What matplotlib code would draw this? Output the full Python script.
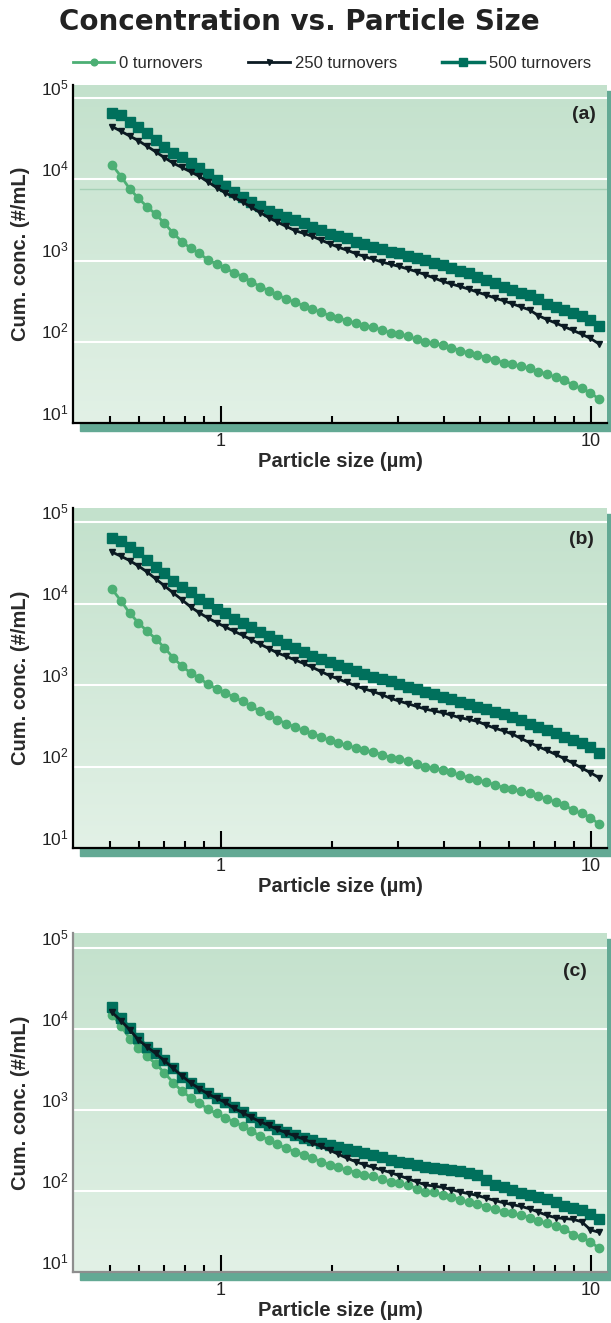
import numpy as np
import matplotlib.pyplot as plt
from matplotlib.patches import Rectangle
from matplotlib.colors import LinearSegmentedColormap
from matplotlib.ticker import FixedLocator, NullLocator, NullFormatter

plt.rcParams['font.family'] = ['Liberation Sans', 'DejaVu Sans']
plt.rcParams['mathtext.fontset'] = 'custom'
plt.rcParams['mathtext.rm'] = 'Liberation Sans'

# particle size channels (um)
sizes = [0.508, 0.537, 0.567, 0.598, 0.631, 0.666, 0.703, 0.743, 0.784, 0.827,
         0.873, 0.922, 0.973, 1.027, 1.084, 1.145, 1.208, 1.276, 1.346, 1.421,
         1.501, 1.584, 1.672, 1.765, 1.863, 1.967, 2.076, 2.191, 2.313, 2.442,
         2.577, 2.721, 2.872, 3.031, 3.200, 3.378, 3.566, 3.764, 3.973, 4.194,
         4.428, 4.674, 4.934, 5.208, 5.498, 5.803, 6.126, 6.467, 6.826, 7.206,
         7.606, 8.030, 8.476, 8.947, 9.445, 9.970, 10.52]

# 0 turnovers (same in all three panels)
zero_turnovers = [15000, 10800, 7600, 5850, 4600, 3720, 2880, 2170, 1710, 1420,
                  1230, 1020, 908, 804, 710, 634, 550, 477, 426, 377,
                  336, 306, 278, 253, 231, 210, 195, 182, 169, 158,
                  151, 140, 129, 124, 118, 107, 98, 96, 90, 85,
                  78, 73, 69, 64, 60, 55, 53, 50, 47, 43,
                  40, 36.5, 34, 29, 26.7, 23.6, 19.6]

# panel (a)
t250_a = [44600, 39000, 34100, 29900, 25600, 21800, 18500, 15800, 14000, 12400,
          10900, 9300, 7900, 6820, 5980, 5240, 4520, 3900, 3370, 2970,
          2630, 2340, 2160, 1990, 1790, 1610, 1460, 1340, 1220, 1120,
          1040, 959, 901, 847, 787, 731, 670, 610, 555, 515,
          480, 445, 409, 377, 347, 320, 294, 269, 247, 210,
          188, 170, 153, 138, 124, 110, 94]
t500_a = [66400, 62100, 51400, 44600, 37600, 30500, 25300, 21300, 18700, 15800,
          13700, 11600, 9840, 8300, 7060, 6120, 5310, 4700, 4120, 3720,
          3480, 3160, 2930, 2620, 2380, 2130, 2010, 1880, 1710, 1590,
          1480, 1380, 1290, 1230, 1150, 1090, 1020, 944, 883, 804,
          752, 698, 634, 579, 527, 479, 437, 395, 377, 339,
          292, 269, 248, 224, 207, 186, 155]

# panel (b)
t250_b = [43000, 38300, 33800, 29100, 24600, 20200, 16600, 13600, 11200, 9170,
          7760, 6680, 5870, 5180, 4600, 4090, 3610, 3190, 2820, 2490,
          2260, 2040, 1850, 1660, 1470, 1310, 1190, 1080, 982, 899,
          836, 764, 690, 637, 592, 548, 508, 483, 460, 428,
          398, 379, 359, 325, 296, 275, 251, 222, 197, 176,
          158, 141, 125, 110, 96, 84, 73]
t500_b = [63800, 59700, 50400, 43000, 34500, 28600, 23700, 19200, 15900, 13800,
          11600, 10100, 8610, 7620, 6490, 5740, 5120, 4520, 4040, 3570,
          3190, 2840, 2520, 2290, 2080, 1900, 1760, 1610, 1500, 1360,
          1260, 1180, 1110, 1030, 951, 891, 834, 773, 716, 670,
          628, 582, 545, 505, 473, 439, 406, 370, 337, 309,
          282, 257, 234, 214, 195, 174, 148]

# panel (c)
t250_c = [16000, 12600, 9730, 7350, 6010, 4990, 4060, 3260, 2640, 2170,
          1840, 1580, 1400, 1240, 1050, 923, 813, 716, 646, 575,
          525, 479, 437, 394, 356, 320, 284, 254, 230, 211,
          196, 182, 169, 155, 142, 130, 119, 115, 111, 104,
          97.5, 92.7, 88.1, 81.8, 76.2, 71.6, 67.8, 64.6, 60.3, 55,
          50.1, 46.8, 45.7, 44.7, 41.7, 33.1, 30.9]
t500_c = [18600, 13600, 10300, 7710, 6070, 5020, 4160, 3280, 2580, 2140,
          1850, 1610, 1400, 1270, 1100, 953, 826, 716, 652, 577,
          540, 491, 447, 426, 394, 369, 346, 327, 314, 296,
          278, 264, 241, 230, 219, 209, 199, 190, 185, 181,
          177, 165, 157, 136, 118, 111, 102, 94.8, 88.7, 85,
          79.4, 72.4, 66.1, 61.7, 57.5, 52.5, 45.7]

panel_names = ['(a)', '(b)', '(c)']

GREEN = '#4caf74'
TEAL = '#00705c'
DARK = '#0b1a22'
SHADOW = '#63a994'
bg_cmap = LinearSegmentedColormap.from_list('bg', ['#c3e1cc', '#e2f1e6'])

W, H = 611, 1323
fig = plt.figure(figsize=(W / 100, H / 100), dpi=100)

# pixel boxes: left, top, right, bottom
boxes = [(73, 85, 607, 423), (73, 508, 607, 848), (73, 933, 607, 1272)]
ytops = [1.45e5, 1.5e5, 1.53e5]
label_pos = [(0.979, 0.914), (0.975, 0.906), (0.963, 0.885)]
spine_cols = ['black', 'black', '#8e8e8e']
series = [(t250_a, t500_a), (t250_b, t500_b), (t250_c, t500_c)]

handles = None
for k, (l, t, r, b) in enumerate(boxes):
    rect = [l / W, 1 - b / H, (r - l) / W, (b - t) / H]
    # drop shadow
    fig.add_artist(Rectangle(((l + 7) / W, 1 - (b + 8) / H),
                             (r + 6 - l - 7) / W, (b + 8 - t - 6) / H,
                             transform=fig.transFigure, color=SHADOW, zorder=-3))
    bg = fig.add_axes(rect, zorder=-1)
    bg.imshow(np.linspace(0, 1, 256)[:, None], cmap=bg_cmap, aspect='auto',
              extent=[0, 1, 0, 1], interpolation='bilinear')
    bg.axis('off')

    ax = fig.add_axes(rect)
    ax.set_facecolor('none')
    ax.set_xscale('log')
    ax.set_yscale('log')
    ax.set_xlim(0.398, 11.05)
    ax.set_ylim(10, ytops[k])

    for v in [1e2, 1e3, 1e4, 1e5]:
        ax.axhline(v, color='white', lw=1.5, zorder=1)
    if k == 0:
        ax.axhline(7550, xmin=0.013, color='#a6d1b6', lw=1, zorder=1)

    t250, t500 = series[k]
    l0, = ax.plot(sizes, zero_turnovers, '-o', color=GREEN, ms=6, lw=2,
                  zorder=3, label='0 turnovers')
    l5, = ax.plot(sizes, t500, '-s', color=TEAL, ms=7.2, lw=2.5,
                  zorder=4, label='500 turnovers')
    l2, = ax.plot(sizes, t250, '-v', color=DARK, ms=4.5, lw=2,
                  zorder=5, label='250 turnovers')
    if handles is None:
        handles = [l0, l2, l5]

    for s in ['top', 'right']:
        ax.spines[s].set_visible(False)
    for s in ['left', 'bottom']:
        ax.spines[s].set_color(spine_cols[k])
        ax.spines[s].set_linewidth(1.6)

    ax.xaxis.set_major_locator(FixedLocator([1, 10]))
    ax.xaxis.set_minor_locator(FixedLocator([0.5, 0.6, 0.7, 0.8, 0.9,
                                             2, 3, 4, 5, 6, 7, 8, 9]))
    ax.xaxis.set_minor_formatter(NullFormatter())
    ax.set_xticklabels(['1', '10'])
    ax.tick_params(axis='x', which='major', direction='in', length=12,
                   width=1.5, pad=7, labelsize=13, colors='black',
                   labelcolor='#222222')
    ax.tick_params(axis='x', which='minor', direction='in', length=5,
                   width=1.5, colors='black')
    ax.yaxis.set_major_locator(FixedLocator([10, 100, 1e3, 1e4, 1e5]))
    ax.yaxis.set_minor_locator(NullLocator())
    ax.tick_params(axis='y', length=0, pad=3, labelsize=12.5,
                   labelcolor='#222222')
    for lab in ax.get_yticklabels():
        lab.set_va('bottom')

    ax.set_xlabel('Particle size (µm)', fontsize=14.5, fontweight='bold',
                  color='#2a2a2a')
    ax.xaxis.set_label_coords(0.5, -0.085)
    ax.set_ylabel('Cum. conc. (#/mL)', fontsize=14.5, fontweight='bold',
                  color='#2a2a2a')
    ax.yaxis.set_label_coords(-0.08, 0.5)

    ax.text(label_pos[k][0], label_pos[k][1], panel_names[k],
            transform=ax.transAxes, ha='right', va='center',
            fontsize=14, fontweight='bold', color='#222222')

fig.text(0.49, 0.983, 'Concentration vs. Particle Size', ha='center',
         va='center', fontsize=20, fontweight='heavy',
         family=['DejaVu Sans'], color='#222222')

fig.legend(handles=handles, labels=[h.get_label() for h in handles],
           loc='center', bbox_to_anchor=(0.543, 0.952), ncol=3,
           frameon=False, fontsize=12, handlelength=2.5,
           handletextpad=0.3, columnspacing=2.7, markerscale=0.8,
           labelcolor='#2a2a2a')

fig.savefig('out.png', dpi=100)
